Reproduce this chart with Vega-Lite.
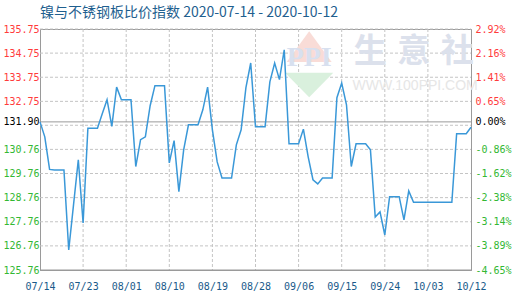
{
  "$schema": "https://vega.github.io/schema/vega-lite/v6.json",
  "width": 431,
  "height": 241,
  "autosize": {"type": "none"},
  "padding": {"left": 40, "top": 29, "right": 49, "bottom": 30},
  "background": "white",
  "config": {"view": {"stroke": "#9a9a9a", "strokeWidth": 1}},
  "title": {
    "text": "镍与不锈钢板比价指数 2020-07-14 - 2020-10-12",
    "anchor": "start",
    "frame": "group",
    "font": "Noto Sans CJK SC",
    "fontSize": 14,
    "fontWeight": "normal",
    "color": "#1f5f8f",
    "offset": 4
  },
  "datasets": {
    "ygrid": [
      {"v": 126.76}, {"v": 127.76}, {"v": 128.76}, {"v": 129.76}, {"v": 130.76},
      {"v": 131.76}, {"v": 132.75}, {"v": 133.75}, {"v": 134.75}, {"v": 135.75}
    ],
    "xgrid": [
      {"d": "2020/07/23"}, {"d": "2020/08/01"}, {"d": "2020/08/10"}, {"d": "2020/08/19"},
      {"d": "2020/08/28"}, {"d": "2020/09/06"}, {"d": "2020/09/15"}, {"d": "2020/09/24"}, {"d": "2020/10/03"}
    ],
    "main": [
      {"date": "2020/07/14", "value": 131.90},
      {"date": "2020/07/15", "value": 131.28},
      {"date": "2020/07/16", "value": 129.93},
      {"date": "2020/07/17", "value": 129.91},
      {"date": "2020/07/18", "value": 129.91},
      {"date": "2020/07/19", "value": 129.91},
      {"date": "2020/07/20", "value": 126.59},
      {"date": "2020/07/21", "value": 128.46},
      {"date": "2020/07/22", "value": 130.33},
      {"date": "2020/07/23", "value": 127.71},
      {"date": "2020/07/24", "value": 131.64},
      {"date": "2020/07/25", "value": 131.64},
      {"date": "2020/07/26", "value": 131.64},
      {"date": "2020/07/27", "value": 132.24},
      {"date": "2020/07/28", "value": 132.82},
      {"date": "2020/07/29", "value": 131.71},
      {"date": "2020/07/30", "value": 133.34},
      {"date": "2020/07/31", "value": 132.82},
      {"date": "2020/08/01", "value": 132.82},
      {"date": "2020/08/02", "value": 132.82},
      {"date": "2020/08/03", "value": 130.05},
      {"date": "2020/08/04", "value": 131.16},
      {"date": "2020/08/05", "value": 131.28},
      {"date": "2020/08/06", "value": 132.57},
      {"date": "2020/08/07", "value": 133.40},
      {"date": "2020/08/08", "value": 133.40},
      {"date": "2020/08/09", "value": 133.40},
      {"date": "2020/08/10", "value": 130.20},
      {"date": "2020/08/11", "value": 131.12},
      {"date": "2020/08/12", "value": 129.01},
      {"date": "2020/08/13", "value": 130.74},
      {"date": "2020/08/14", "value": 131.78},
      {"date": "2020/08/15", "value": 131.78},
      {"date": "2020/08/16", "value": 131.78},
      {"date": "2020/08/17", "value": 132.40},
      {"date": "2020/08/18", "value": 133.34},
      {"date": "2020/08/19", "value": 131.57},
      {"date": "2020/08/20", "value": 130.24},
      {"date": "2020/08/21", "value": 129.57},
      {"date": "2020/08/22", "value": 129.57},
      {"date": "2020/08/23", "value": 129.57},
      {"date": "2020/08/24", "value": 130.95},
      {"date": "2020/08/25", "value": 131.57},
      {"date": "2020/08/26", "value": 133.32},
      {"date": "2020/08/27", "value": 134.34},
      {"date": "2020/08/28", "value": 131.70},
      {"date": "2020/08/29", "value": 131.70},
      {"date": "2020/08/30", "value": 131.70},
      {"date": "2020/08/31", "value": 133.56},
      {"date": "2020/09/01", "value": 134.34},
      {"date": "2020/09/02", "value": 133.65},
      {"date": "2020/09/03", "value": 134.89},
      {"date": "2020/09/04", "value": 130.99},
      {"date": "2020/09/05", "value": 130.99},
      {"date": "2020/09/06", "value": 130.99},
      {"date": "2020/09/07", "value": 131.60},
      {"date": "2020/09/08", "value": 130.45},
      {"date": "2020/09/09", "value": 129.50},
      {"date": "2020/09/10", "value": 129.33},
      {"date": "2020/09/11", "value": 129.57},
      {"date": "2020/09/12", "value": 129.57},
      {"date": "2020/09/13", "value": 129.57},
      {"date": "2020/09/14", "value": 132.90},
      {"date": "2020/09/15", "value": 133.51},
      {"date": "2020/09/16", "value": 132.61},
      {"date": "2020/09/17", "value": 130.05},
      {"date": "2020/09/18", "value": 130.99},
      {"date": "2020/09/19", "value": 130.99},
      {"date": "2020/09/20", "value": 130.99},
      {"date": "2020/09/21", "value": 130.74},
      {"date": "2020/09/22", "value": 127.96},
      {"date": "2020/09/23", "value": 128.17},
      {"date": "2020/09/24", "value": 127.21},
      {"date": "2020/09/25", "value": 128.80},
      {"date": "2020/09/26", "value": 128.80},
      {"date": "2020/09/27", "value": 128.80},
      {"date": "2020/09/28", "value": 127.84},
      {"date": "2020/09/29", "value": 129.04},
      {"date": "2020/09/30", "value": 128.57},
      {"date": "2020/10/01", "value": 128.57},
      {"date": "2020/10/02", "value": 128.57},
      {"date": "2020/10/03", "value": 128.57},
      {"date": "2020/10/04", "value": 128.57},
      {"date": "2020/10/05", "value": 128.57},
      {"date": "2020/10/06", "value": 128.57},
      {"date": "2020/10/07", "value": 128.57},
      {"date": "2020/10/08", "value": 128.57},
      {"date": "2020/10/09", "value": 131.41},
      {"date": "2020/10/10", "value": 131.41},
      {"date": "2020/10/11", "value": 131.41},
      {"date": "2020/10/12", "value": 131.68}
    ]
  },
  "resolve": {"axis": {"y": "independent"}},
  "layer": [
    {
      "data": {"name": "ygrid"},
      "mark": {"type": "rule", "color": "#c4c4c4", "strokeWidth": 1, "strokeDash": [3, 2]},
      "encoding": {
        "x": {"datum": {"year": 2020, "month": 7, "date": 14}, "type": "temporal"},
        "x2": {"datum": {"year": 2020, "month": 10, "date": 12}},
        "y": {"field": "v", "type": "quantitative", "axis": null}
      }
    },
    {
      "data": {"name": "xgrid"},
      "mark": {"type": "rule", "color": "#c4c4c4", "strokeWidth": 1, "strokeDash": [3, 2]},
      "encoding": {
        "x": {"field": "d", "type": "temporal"}
      }
    },
    {
      "data": {"values": [{}]},
      "mark": {"type": "point", "filled": true, "shape": "M0,-1L0.68,-0.07L-0.68,-0.07Z", "color": "#f9dcd7", "opacity": 1, "strokeWidth": 0},
      "encoding": {
        "x": {"datum": {"year": 2020, "month": 9, "date": 8, "hours": 5}, "type": "temporal"},
        "y": {"datum": 134.29, "type": "quantitative", "axis": null},
        "size": {"value": 4356}
      }
    },
    {
      "data": {"values": [{}]},
      "mark": {"type": "point", "filled": true, "shape": "M-0.73,0.26L0.73,0.26L0,1Z", "color": "#d9f0dd", "opacity": 1, "strokeWidth": 0},
      "encoding": {
        "x": {"datum": {"year": 2020, "month": 9, "date": 8, "hours": 5}, "type": "temporal"},
        "y": {"datum": 134.29, "type": "quantitative", "axis": null},
        "size": {"value": 4356}
      }
    },
    {
      "data": {"values": [{}]},
      "mark": {"type": "text", "text": "PPI", "font": "Liberation Serif", "fontWeight": "bold", "fontSize": 28, "color": "#d8e0ef", "align": "center", "baseline": "middle"},
      "encoding": {
        "x": {"datum": {"year": 2020, "month": 9, "date": 8, "hours": 5}, "type": "temporal"},
        "y": {"datum": 134.54, "type": "quantitative", "axis": null}
      }
    },
    {
      "data": {"values": [{}]},
      "mark": {"type": "text", "text": "生", "font": "Noto Sans CJK SC", "fontWeight": "bold", "fontSize": 33, "color": "#dce1ec", "align": "center", "baseline": "middle"},
      "encoding": {
        "x": {"datum": {"year": 2020, "month": 9, "date": 20, "hours": 23}, "type": "temporal"},
        "y": {"datum": 134.80, "type": "quantitative", "axis": null}
      }
    },
    {
      "data": {"values": [{}]},
      "mark": {"type": "text", "text": "意", "font": "Noto Sans CJK SC", "fontWeight": "bold", "fontSize": 33, "color": "#dce1ec", "align": "center", "baseline": "middle"},
      "encoding": {
        "x": {"datum": {"year": 2020, "month": 9, "date": 30, "hours": 1}, "type": "temporal"},
        "y": {"datum": 134.80, "type": "quantitative", "axis": null}
      }
    },
    {
      "data": {"values": [{}]},
      "mark": {"type": "text", "text": "社", "font": "Noto Sans CJK SC", "fontWeight": "bold", "fontSize": 33, "color": "#dce1ec", "align": "center", "baseline": "middle"},
      "encoding": {
        "x": {"datum": {"year": 2020, "month": 10, "date": 9, "hours": 3}, "type": "temporal"},
        "y": {"datum": 134.80, "type": "quantitative", "axis": null}
      }
    },
    {
      "data": {"values": [{}]},
      "mark": {"type": "text", "text": "WWW.100PPI.COM", "font": "Liberation Sans", "fontSize": 14, "color": "#e6e6e6", "align": "center", "baseline": "middle"},
      "encoding": {
        "x": {"datum": {"year": 2020, "month": 9, "date": 30, "hours": 8}, "type": "temporal"},
        "y": {"datum": 133.37, "type": "quantitative", "axis": null}
      }
    },
    {
      "data": {"values": [{}]},
      "mark": {"type": "rule", "color": "#9a9a9a", "strokeWidth": 1},
      "encoding": {
        "x": {"datum": {"year": 2020, "month": 7, "date": 14}, "type": "temporal"},
        "x2": {"datum": {"year": 2020, "month": 10, "date": 12}},
        "y": {"datum": 125.76, "type": "quantitative", "axis": null}
      }
    },
    {
      "data": {"values": [{}]},
      "mark": {"type": "rule", "color": "#9a9a9a", "strokeWidth": 1},
      "encoding": {
        "y": {
          "datum": 131.9,
          "type": "quantitative",
          "axis": {
            "orient": "right",
            "values": [125.76, 126.76, 127.76, 128.76, 129.76, 130.76, 131.76, 131.9, 132.75, 133.75, 134.75, 135.75],
            "labelExpr": "['-4.65%','-3.89%','-3.14%','-2.38%','-1.62%','-0.86%','','0.00%','0.65%','1.41%','2.16%','2.92%'][indexof([125.76,126.76,127.76,128.76,129.76,130.76,131.76,131.9,132.75,133.75,134.75,135.75], datum.value)]",
            "labelColor": {"condition": [{"test": "datum.value == 131.9", "value": "#000000"}, {"test": "datum.value > 131.9", "value": "#ff3b3b"}], "value": "#33b833"},
            "labelFont": "DejaVu Sans Mono",
            "labelFontSize": 10,
            "labelPadding": 4,
            "labelOverlap": false,
            "labelBound": false,
            "tickSize": 0,
            "grid": false,
            "domain": true,
            "domainColor": "#9a9a9a",
            "title": null
          }
        }
      }
    },
    {
      "data": {"name": "main"},
      "mark": {"type": "line", "color": "#3a98d8", "strokeWidth": 1.5, "interpolate": "linear"},
      "encoding": {
        "x": {
          "field": "date",
          "type": "temporal",
          "scale": {"domain": [{"year": 2020, "month": 7, "date": 14}, {"year": 2020, "month": 10, "date": 12}], "nice": false},
          "axis": {
            "values": [
              {"year": 2020, "month": 7, "date": 14},
              {"year": 2020, "month": 7, "date": 23},
              {"year": 2020, "month": 8, "date": 1},
              {"year": 2020, "month": 8, "date": 10},
              {"year": 2020, "month": 8, "date": 19},
              {"year": 2020, "month": 8, "date": 28},
              {"year": 2020, "month": 9, "date": 6},
              {"year": 2020, "month": 9, "date": 15},
              {"year": 2020, "month": 9, "date": 24},
              {"year": 2020, "month": 10, "date": 3},
              {"year": 2020, "month": 10, "date": 12}
            ],
            "format": "%m/%d",
            "labelColor": "#1a5a8a",
            "labelFont": "DejaVu Sans Mono",
            "labelFontSize": 10,
            "labelFlush": false,
            "labelOverlap": false,
            "labelPadding": 11,
            "tickSize": 0,
            "grid": false,
            "domain": true,
            "domainColor": "#9a9a9a",
            "title": null
          }
        },
        "y": {
          "field": "value",
          "type": "quantitative",
          "scale": {"domain": [125.76, 135.75], "nice": false, "zero": false},
          "axis": {
            "orient": "left",
            "values": [125.76, 126.76, 127.76, 128.76, 129.76, 130.76, 131.76, 131.9, 132.75, 133.75, 134.75, 135.75],
            "labelExpr": "datum.value == 131.76 ? '' : format(datum.value, '.2f')",
            "labelColor": {"condition": [{"test": "datum.value == 131.9", "value": "#000000"}, {"test": "datum.value > 131.9", "value": "#ff3b3b"}], "value": "#33b833"},
            "labelFont": "DejaVu Sans Mono",
            "labelFontSize": 10,
            "labelPadding": 1,
            "labelOverlap": false,
            "labelBound": false,
            "tickSize": 0,
            "grid": false,
            "domain": true,
            "domainColor": "#9a9a9a",
            "title": null
          }
        }
      }
    }
  ]
}
